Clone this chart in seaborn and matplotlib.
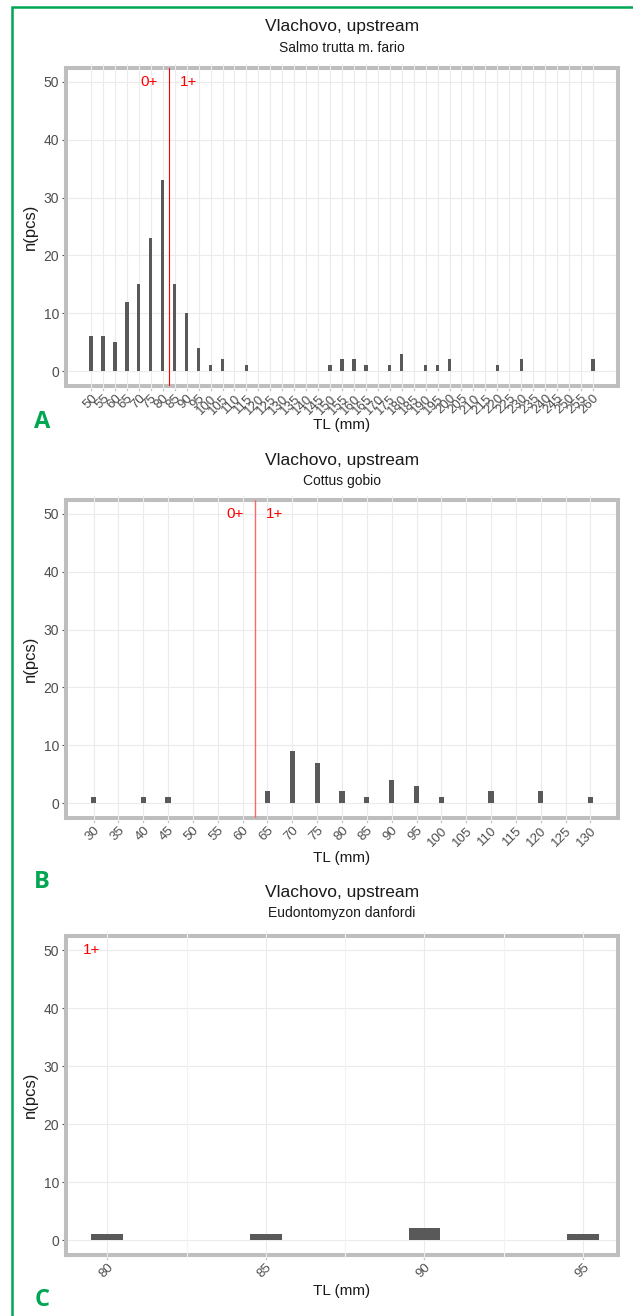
import matplotlib
matplotlib.use('Agg')
import matplotlib.pyplot as plt
import seaborn as sns
import pandas as pd
from matplotlib.patches import Rectangle

sns.set_theme(style='white')
plt.rcParams['font.family'] = ['Liberation Sans', 'DejaVu Sans']

# ---------------- data ----------------
site_title = "Vlachovo, upstream"

a_species = "Salmo trutta m. fario"
a_tl = [50, 55, 60, 65, 70, 75, 80, 85, 90, 95, 100, 105, 115,
        150, 155, 160, 165, 175, 180, 190, 195, 200, 220, 230, 260]
a_n = [6, 6, 5, 12, 15, 23, 33, 15, 10, 4, 1, 2, 1,
       1, 2, 2, 1, 1, 3, 1, 1, 2, 1, 2, 2]
a_ticks = list(range(50, 261, 5))
a_split = 82.5
a_labels = ["0+", "1+"]

b_species = "Cottus gobio"
b_tl = [30, 40, 45, 65, 70, 75, 80, 85, 90, 95, 100, 110, 120, 130]
b_n = [1, 1, 1, 2, 9, 7, 2, 1, 4, 3, 1, 2, 2, 1]
b_ticks = list(range(30, 131, 5))
b_split = 62.5
b_labels = ["0+", "1+"]

c_species = "Eudontomyzon danfordi"
c_tl = [80, 85, 90, 95]
c_n = [1, 1, 2, 1]
c_ticks = [80, 85, 90, 95]
c_minor = [82.5, 87.5, 92.5]
c_label = "1+"
c_label_x = 79.5

y_ticks = [0, 10, 20, 30, 40, 50]

# ---------------- layout ----------------
W, H, DPI = 633, 1316, 100
fig = plt.figure(figsize=(W / DPI, H / DPI), dpi=DPI)
fig.patch.set_facecolor('white')

def fx(px):
    return px / W

def fy(py):
    return 1 - py / H

L, R = 66, 618
panels = [
    dict(tl=a_tl, n=a_n, ticks=a_ticks, xlim=(39.5, 270.5), top=67.5, bot=385.5,
         species=a_species, ty=27, sy=48, xly=425, letter='A', ly=422, bw=0.27,
         split=a_split, split_col='#ff0000', split_lw=0.8, minor=[], labels=a_labels),
    dict(tl=b_tl, n=b_n, ticks=b_ticks, xlim=(24.45, 135.55), top=499.5, bot=817.5,
         species=b_species, ty=460, sy=481, xly=858, letter='B', ly=882, bw=0.21,
         split=b_split, split_col='#ff6666', split_lw=1.0, minor=[], labels=b_labels),
    dict(tl=c_tl, n=c_n, ticks=c_ticks, xlim=(78.7, 96.1), top=935.5, bot=1254.5,
         species=c_species, ty=893, sy=913, xly=1291, letter='C', ly=1300, bw=0.2,
         split=None, split_col=None, split_lw=None, minor=c_minor, labels=None),
]

BORDER = '#bebebe'
GRID = '#ebebeb'
BAR = '#595959'

for p in panels:
    ax = fig.add_axes([fx(L), fy(p['bot']), fx(R) - fx(L), (p['bot'] - p['top']) / H])
    df = pd.DataFrame({'TL': p['tl'], 'n': p['n']})
    sns.barplot(data=df, x='TL', y='n', native_scale=True, width=p['bw'],
                color=BAR, saturation=1, errorbar=None, ax=ax, zorder=3,
                linewidth=0)
    ax.set_xlim(*p['xlim'])
    ax.set_ylim(-2.5, 52.5)
    ax.set_xticks(p['ticks'])
    ax.set_xticklabels([str(t) for t in p['ticks']], rotation=45, ha='right',
                       rotation_mode='anchor', color='#4d4d4d', fontsize=9.5)
    ax.set_yticks(y_ticks)
    ax.set_yticklabels([str(t) for t in y_ticks], color='#4d4d4d', fontsize=10)
    ax.tick_params(axis='both', length=3, width=0.8, color='#555555',
                   pad=2, direction='out', bottom=True, left=True)
    ax.set_xlabel('')
    ax.set_ylabel('')
    for s in ax.spines.values():
        s.set_color(BORDER)
        s.set_linewidth(2.9)
        s.set_zorder(2.5)
    ax.set_facecolor('white')
    # grid lines (vertical lines cross the frame like in the reference)
    for t in list(p['ticks']) + list(p['minor']):
        ax.axvline(t, ymin=-0.012, ymax=1.012,
                   color=GRID if t in p['ticks'] else '#f3f3f3',
                   lw=0.8, zorder=2.6, clip_on=False)
    for t in y_ticks:
        ax.axhline(t, color=GRID, lw=0.8, zorder=1)
    if p['split'] is not None:
        ax.axvline(p['split'], color=p['split_col'], lw=p['split_lw'], zorder=4)
        ax.annotate(p['labels'][0], xy=(p['split'], 50), xytext=(-8, 0),
                    textcoords='offset points', ha='right', va='center',
                    color='#ff0000', fontsize=11)
        ax.annotate(p['labels'][1], xy=(p['split'], 50), xytext=(8, 0),
                    textcoords='offset points', ha='left', va='center',
                    color='#ff0000', fontsize=11)
    else:
        ax.text(c_label_x, 50, c_label, ha='center', va='center',
                color='#ff0000', fontsize=11)

    cx = (L + R) / 2
    fig.text(fx(cx), fy(p['ty']), site_title, ha='center', va='center',
             fontsize=12.5, color='#1a1a1a')
    fig.text(fx(cx), fy(p['sy']), p['species'], ha='center', va='center',
             fontsize=10, color='#1a1a1a')
    fig.text(fx(cx), fy(p['xly']), 'TL (mm)', ha='center', va='center',
             fontsize=11, color='#1a1a1a')
    fig.text(fx(30), fy((p['top'] + p['bot']) / 2), 'n(pcs)', ha='center', va='center',
             rotation=90, fontsize=12, color='#1a1a1a')
    fig.text(fx(42), fy(p['ly']), p['letter'], ha='center', va='center',
             fontsize=17, fontweight='bold', color='#00a651',
             family=['Open Sans', 'DejaVu Sans'])

# green outer frame
fig.patches.append(Rectangle((fx(12), -0.01), 1.02 - fx(12), fy(7) + 0.01,
                             transform=fig.transFigure, fill=False,
                             edgecolor='#00a651', lw=1.8))

fig.savefig('out.png', dpi=DPI, facecolor='white')
